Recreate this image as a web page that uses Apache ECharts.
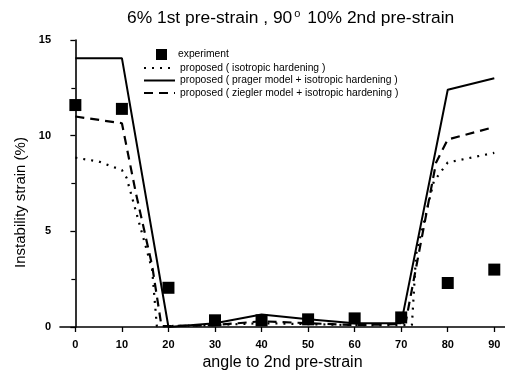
<!DOCTYPE html>
<html>
<head>
<meta charset="utf-8">
<style>
  html, body { margin: 0; padding: 0; background: #fff; }
  #chart { width: 505px; height: 370px; }
</style>
<script src="https://cdn.jsdelivr.net/npm/echarts@6.0.0/dist/echarts.min.js"></script>
</head>
<body>
<div id="chart"></div>
<script>
// tick positions on the x axis
const xTicks = [0, 10, 20, 30, 40, 50, 60, 70, 80, 90]

// experiment points
const angles = [0, 10, 20, 30, 40, 50, 60, 70, 80, 90]
const experiment = [11.6, 11.4, 2.05, 0.35, 0.35, 0.4, 0.45, 0.5, 2.3, 3.0]

// proposed ( isotropic hardening ) - dotted
const isoX = [0, 5, 10, 11, 16.5, 17.5, 20, 30, 40, 50, 60, 70, 72.3, 73.2, 77, 80, 90]
const isoY = [8.85, 8.65, 8.2, 7.8, 3.0, 0.05, 0.05, 0.1, 0.2, 0.15, 0.1, 0.1, 0.1, 3.8, 7.6, 8.6, 9.1]

// proposed ( prager model + isotropic hardening ) - solid
const pragerX = [0, 10, 20, 30, 40, 50, 60, 70, 80, 90]
const pragerY = [14.05, 14.05, 0, 0.2, 0.65, 0.4, 0.2, 0.2, 12.4, 13.0]

// proposed ( ziegler model + isotropic hardening ) - dashed
const zieglerX = [0, 10, 13, 16.5, 18.5, 20, 30, 40, 50, 60, 70, 71, 77.5, 80, 90]
const zieglerY = [11.0, 10.65, 7.0, 3.2, 0.05, 0.05, 0.1, 0.3, 0.2, 0.1, 0.15, 0.3, 8.6, 9.8, 10.45]

const pairs = (xs, ys) => xs.map((x, i) => [x, ys[i]])

const FONT = 'Liberation Sans, Arial, sans-serif'
const chart = echarts.init(document.getElementById('chart'), null, { renderer: 'canvas' })

const lineSeries = (name, xs, ys, type, width) => ({
  name: name,
  type: 'line',
  data: pairs(xs, ys),
  symbol: 'none',
  showSymbol: false,
  silent: true,
  lineStyle: { color: '#000', width: width, type: type },
  itemStyle: { color: '#000' },
})

const option = {
  backgroundColor: '#fff',
  animation: false,
  title: {
    text: '6% 1st pre-strain , 90{sup|o} 10% 2nd pre-strain',
    left: 122,
    top: 3,
    textStyle: {
      fontFamily: FONT,
      fontSize: 17.4,
      fontWeight: 'normal',
      color: '#000',
      rich: {
        sup: { fontFamily: FONT, fontSize: 11, color: '#000', padding: [0, 2, 10, 2] },
      },
    },
  },
  legend: [
    {
      data: ['experiment'],
      left: 151,
      top: 44,
      itemWidth: 11,
      itemHeight: 11,
      itemStyle: { opacity: 1 },
      textStyle: { fontFamily: FONT, fontSize: 10.3, color: '#000', padding: [0, 0, 0, 6] },
    },
    {
      data: [
        'proposed ( isotropic hardening )',
        'proposed ( prager model + isotropic hardening )',
        'proposed ( ziegler model + isotropic hardening )',
      ],
      orient: 'vertical',
      left: 138,
      top: 58,
      itemWidth: 31,
      itemHeight: 8,
      itemGap: 2.5,
      itemStyle: { opacity: 0 },
      textStyle: { fontFamily: FONT, fontSize: 10.3, color: '#000' },
    },
  ],
  grid: { left: 60, right: 0, top: 40, bottom: 43, outerBoundsMode: 'none' },
  xAxis: {
    type: 'value',
    min: -3.3,
    max: 92.3,
    name: 'angle to 2nd pre-strain',
    nameLocation: 'middle',
    nameGap: 19,
    nameTextStyle: { fontFamily: FONT, fontSize: 16, color: '#000' },
    axisLine: { lineStyle: { color: '#000', width: 1.6 } },
    axisTick: { customValues: xTicks, length: 5, lineStyle: { color: '#000', width: 1.3 } },
    axisLabel: { customValues: xTicks, margin: 12, fontFamily: FONT, fontSize: 11, fontWeight: 'bold', color: '#000' },
    splitLine: { show: false },
  },
  yAxis: {
    type: 'value',
    min: 0,
    max: 15,
    interval: 5,
    name: 'Instability strain (%)',
    nameLocation: 'middle',
    nameGap: 32,
    nameTextStyle: { fontFamily: FONT, fontSize: 15, color: '#000', padding: [0, 38, 0, 0] },
    axisLine: { show: true, lineStyle: { color: '#000', width: 1.6 } },
    axisTick: { show: true, length: 5, lineStyle: { color: '#000', width: 1.3 } },
    minorTick: { show: true, splitNumber: 2, length: 4, lineStyle: { color: '#000', width: 1.2 } },
    axisLabel: { margin: 9, fontFamily: FONT, fontSize: 11, fontWeight: 'bold', color: '#000' },
    splitLine: { show: false },
  },
  series: [
    {
      name: 'experiment',
      type: 'scatter',
      data: pairs(angles, experiment),
      symbol: 'rect',
      symbolSize: 12,
      silent: true,
      itemStyle: { color: '#000', opacity: 1 },
    },
    lineSeries('proposed ( isotropic hardening )', isoX, isoY, [2, 6], 2.2),
    lineSeries('proposed ( prager model + isotropic hardening )', pragerX, pragerY, 'solid', 2),
    lineSeries('proposed ( ziegler model + isotropic hardening )', zieglerX, zieglerY, [9, 6], 2.2),
  ],
}

chart.setOption(option)
window.addEventListener('resize', () => chart.resize())
</script>
</body>
</html>
